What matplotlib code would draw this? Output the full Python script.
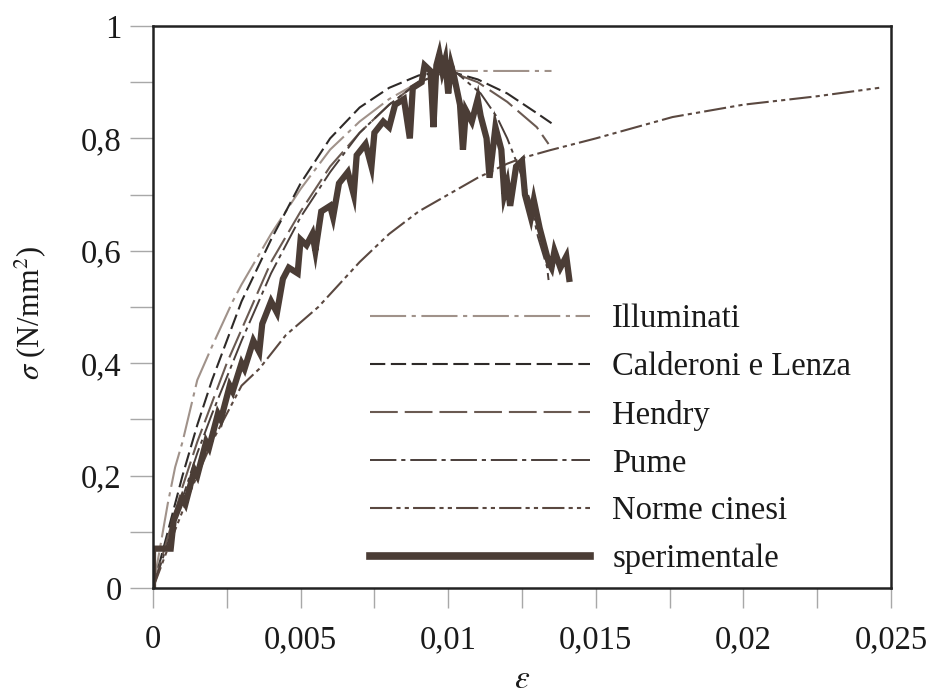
import matplotlib
matplotlib.use('Agg')
import matplotlib.pyplot as plt

plt.rcParams['font.family'] = ['Liberation Serif', 'DejaVu Serif']
plt.rcParams['mathtext.fontset'] = 'stix'
plt.rcParams['lines.scale_dashes'] = False

# strain (eps) / stress (N/mm2)
illuminati_eps = [0, 0.0005, 0.00075, 0.001, 0.0015, 0.002, 0.0027, 0.003, 0.004, 0.005, 0.006, 0.007, 0.008, 0.009, 0.010, 0.0135]
illuminati_sig = [0, 0.15, 0.215, 0.26, 0.37, 0.43, 0.51, 0.54, 0.63, 0.71, 0.78, 0.83, 0.87, 0.90, 0.92, 0.92]

calderoni_eps = [0, 0.0005, 0.001, 0.0015, 0.002, 0.0025, 0.003, 0.004, 0.005, 0.006, 0.007, 0.008, 0.009, 0.010, 0.011, 0.012, 0.013, 0.0135]
calderoni_sig = [0, 0.10, 0.20, 0.29, 0.37, 0.44, 0.51, 0.62, 0.72, 0.80, 0.855, 0.89, 0.912, 0.92, 0.905, 0.88, 0.845, 0.827]

hendry_eps = [0, 0.0005, 0.001, 0.0015, 0.002, 0.0025, 0.003, 0.004, 0.005, 0.006, 0.007, 0.008, 0.009, 0.010, 0.011, 0.012, 0.013, 0.0134]
hendry_sig = [0, 0.09, 0.18, 0.26, 0.33, 0.40, 0.46, 0.58, 0.67, 0.75, 0.81, 0.86, 0.90, 0.92, 0.90, 0.865, 0.82, 0.79]

pume_eps = [0, 0.0005, 0.001, 0.0015, 0.002, 0.003, 0.004, 0.005, 0.006, 0.007, 0.008, 0.009, 0.010, 0.0103, 0.0111, 0.01165, 0.012, 0.01233, 0.01277, 0.01304, 0.01335, 0.0134]
pume_sig = [0, 0.08, 0.16, 0.24, 0.31, 0.44, 0.56, 0.66, 0.74, 0.81, 0.86, 0.90, 0.92, 0.916, 0.88, 0.838, 0.80, 0.756, 0.69, 0.625, 0.571, 0.548]

cinesi_eps = [0, 0.0005, 0.00125, 0.002, 0.003, 0.0036, 0.0045, 0.0056, 0.00644, 0.007, 0.008, 0.009, 0.010, 0.011, 0.012, 0.0125, 0.01345, 0.015, 0.0176, 0.020, 0.0225, 0.0246]
cinesi_sig = [0, 0.07, 0.17, 0.26, 0.36, 0.39, 0.45, 0.50, 0.548, 0.58, 0.63, 0.67, 0.70, 0.73, 0.755, 0.765, 0.779, 0.80, 0.838, 0.86, 0.875, 0.89]

exp_eps = [0.0, 0.0, 0.0006, 0.0007, 0.0010, 0.0011, 0.0014, 0.0015, 0.0018, 0.0019,
           0.0022, 0.0023, 0.0026, 0.0027, 0.0030, 0.0031, 0.0034, 0.0036, 0.0037, 0.0040,
           0.0042, 0.0044, 0.0046, 0.0049, 0.0050, 0.0052, 0.0054, 0.0055, 0.0057, 0.0060,
           0.0061, 0.0063, 0.0066, 0.0068, 0.0069, 0.0072, 0.0074, 0.0075, 0.0078, 0.0080,
           0.0082, 0.0085, 0.0087, 0.0088, 0.0091, 0.0092, 0.0094, 0.0095, 0.0096, 0.0097,
           0.0098, 0.0099, 0.0100, 0.0101, 0.0102, 0.0104, 0.0105, 0.0106, 0.0108, 0.0110,
           0.0111, 0.0113, 0.0114, 0.0116, 0.0118, 0.0119, 0.0120, 0.0121, 0.0123, 0.0125,
           0.0126, 0.0128, 0.0129, 0.0131, 0.0132, 0.0134, 0.0135, 0.0136, 0.0138, 0.0139,
           0.0140, 0.0141]
exp_sig = [0.00, 0.07, 0.07, 0.12, 0.16, 0.15, 0.21, 0.20, 0.26, 0.25,
           0.31, 0.30, 0.36, 0.35, 0.40, 0.39, 0.44, 0.42, 0.47, 0.51,
           0.49, 0.55, 0.57, 0.56, 0.62, 0.61, 0.63, 0.60, 0.67, 0.68,
           0.66, 0.72, 0.74, 0.70, 0.77, 0.79, 0.75, 0.81, 0.83, 0.82,
           0.86, 0.87, 0.80, 0.89, 0.90, 0.93, 0.92, 0.82, 0.93, 0.95,
           0.92, 0.94, 0.88, 0.93, 0.91, 0.86, 0.78, 0.85, 0.83, 0.87,
           0.84, 0.80, 0.73, 0.82, 0.78, 0.70, 0.72, 0.68, 0.75, 0.76,
           0.70, 0.66, 0.69, 0.64, 0.62, 0.58, 0.57, 0.60, 0.57, 0.58,
           0.59, 0.55]

labels = ['Illuminati', 'Calderoni e Lenza', 'Hendry', 'Pume', 'Norme cinesi', 'sperimentale']
x_ticks = [0, 0.005, 0.01, 0.015, 0.02, 0.025]
x_ticklabels = ['0', '0,005', '0,01', '0,015', '0,02', '0,025']
y_ticks = [0, 0.2, 0.4, 0.6, 0.8, 1.0]
y_ticklabels = ['0', '0,2', '0,4', '0,6', '0,8', '1']

fig = plt.figure(figsize=(9.4, 6.97), dpi=100)
ax = fig.add_axes([153 / 940, 1 - 588 / 697, 738 / 940, 562 / 697])

l1, = ax.plot(illuminati_eps, illuminati_sig, color='#a0928a', lw=1.5, ls=(0, (26, 4, 3, 4)))
l2, = ax.plot(calderoni_eps, calderoni_sig, color='#2e2a28', lw=1.5, ls=(0, (11, 4)))
l3, = ax.plot(hendry_eps, hendry_sig, color='#6a5a52', lw=1.5, ls=(0, (20, 5)))
l4, = ax.plot(pume_eps, pume_sig, color='#4a3e3a', lw=1.4, ls=(0, (19, 3.5, 3, 3.5)))
l5, = ax.plot(cinesi_eps, cinesi_sig, color='#5a4840', lw=1.5, ls=(0, (16, 3, 3, 3, 3, 3)))
l6, = ax.plot(exp_eps, exp_sig, color='#4b3d36', lw=4.5, solid_joinstyle='miter')

leg = ax.legend([l1, l2, l3, l4, l5, l6], labels, loc='upper left',
                bbox_to_anchor=(0.294, 0.506), frameon=False, fontsize=23.5,
                handlelength=6.75, handletextpad=0.67, labelspacing=0.535,
                borderpad=0, borderaxespad=0)
leg.get_lines()[-1].set_linewidth(5.5)
for t in leg.get_texts():
    t.set_color('#1a1a1a')

ax.set_xlim(0, 0.025)
ax.set_ylim(0, 1)
ax.set_xticks(x_ticks)
ax.set_xticklabels(x_ticklabels)
ax.set_yticks(y_ticks)
ax.set_yticklabels(y_ticklabels)
ax.set_xticks([0.0025, 0.0075, 0.0125, 0.0175, 0.0225], minor=True)
ax.set_yticks([0.1, 0.3, 0.5, 0.7, 0.9], minor=True)
ax.tick_params(axis='both', which='both', direction='out', color='#a8a8a8', width=1,
               labelsize=23.5, labelcolor='#1a1a1a')
ax.tick_params(axis='x', which='both', length=14.4, pad=12)
ax.tick_params(axis='y', which='both', length=16.5, pad=6)

for s in ax.spines.values():
    s.set_linewidth(1.8)
    s.set_color('#222222')

ax.set_xlabel(r'$\varepsilon$', fontsize=24, color='#1a1a1a', labelpad=7)
ax.set_ylabel(r'$\sigma$ (N/mm$^2$)', fontsize=22, color='#1a1a1a')
ax.yaxis.set_label_coords(-0.142, 0.49)

fig.savefig('out.png', dpi=100)
